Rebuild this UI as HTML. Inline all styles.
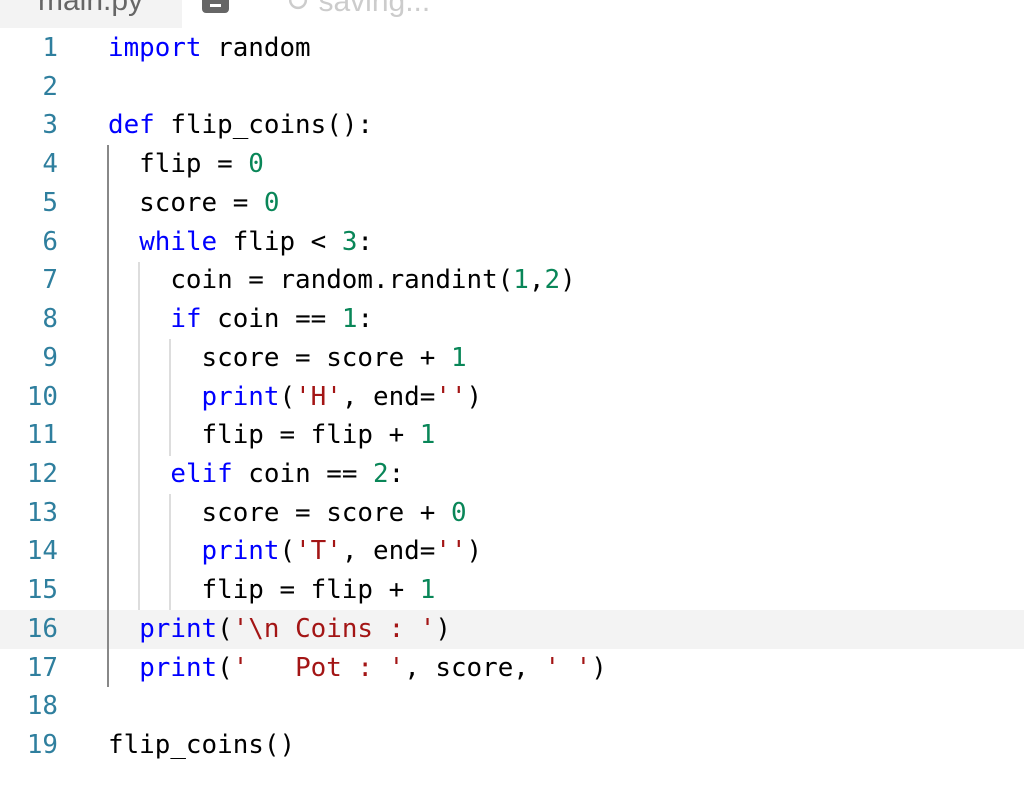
<!DOCTYPE html>
<html><head><meta charset="utf-8"><style>
html,body{margin:0;padding:0;width:1024px;height:805px;background:#fff;overflow:hidden;position:relative;font-family:"DejaVu Sans Mono","Liberation Mono",monospace}
.tab{position:absolute;left:0;top:0;width:182px;height:28px;background:#f3f3f3}
.tabt{position:absolute;left:38px;top:-16px;font:30px "Liberation Sans",sans-serif;color:#666}
.icon{position:absolute;left:202px;top:0;width:27px;height:13px;background:#666;border-radius:0 0 4px 4px}
.icon:after{content:"";position:absolute;left:8px;top:4px;width:11px;height:3px;background:#fff}
.sav{position:absolute;left:285px;top:-16px;font:30px "Liberation Sans",sans-serif;color:#ccc}
.hl{position:absolute;left:0;top:610px;width:1024px;height:38.7px;background:#f3f3f3}
.row{position:absolute;left:0;height:38.72px;line-height:38.72px;font-size:25.9px;white-space:pre;color:#000}
.n{position:absolute;right:966px;color:#2f7f9e;text-align:right}
.c{position:absolute;left:108px}
.k{color:#0000ff}.s{color:#a31515}.d{color:#098658}
.g{position:absolute;width:2px}
</style></head><body>
<div class="tab"><div class="tabt">main.py</div></div>
<div class="icon"></div>
<div class="sav">↻ saving...</div>
<div class="hl"></div>
<div class="g" style="left:107px;top:145px;height:542px;background:#888"></div>
<div class="g" style="left:138px;top:262px;height:348px;background:#ddd"></div>
<div class="g" style="left:169px;top:339px;height:117px;background:#ddd"></div>
<div class="g" style="left:169px;top:494px;height:116px;background:#ddd"></div>
<div class="row" style="top:29px;width:1024px"><span class="n">1</span><span class="c"><span class="k">import</span> random</span></div>
<div class="row" style="top:67.7px;width:1024px"><span class="n">2</span></div>
<div class="row" style="top:106.4px;width:1024px"><span class="n">3</span><span class="c"><span class="k">def</span> flip_coins():</span></div>
<div class="row" style="top:145.2px;width:1024px"><span class="n">4</span><span class="c">  flip = <span class="d">0</span></span></div>
<div class="row" style="top:183.9px;width:1024px"><span class="n">5</span><span class="c">  score = <span class="d">0</span></span></div>
<div class="row" style="top:222.6px;width:1024px"><span class="n">6</span><span class="c">  <span class="k">while</span> flip &lt; <span class="d">3</span>:</span></div>
<div class="row" style="top:261.3px;width:1024px"><span class="n">7</span><span class="c">    coin = random.randint(<span class="d">1</span>,<span class="d">2</span>)</span></div>
<div class="row" style="top:300px;width:1024px"><span class="n">8</span><span class="c">    <span class="k">if</span> coin == <span class="d">1</span>:</span></div>
<div class="row" style="top:338.8px;width:1024px"><span class="n">9</span><span class="c">      score = score + <span class="d">1</span></span></div>
<div class="row" style="top:377.5px;width:1024px"><span class="n">10</span><span class="c">      <span class="k">print</span>(<span class="s">'H'</span>, end=<span class="s">''</span>)</span></div>
<div class="row" style="top:416.2px;width:1024px"><span class="n">11</span><span class="c">      flip = flip + <span class="d">1</span></span></div>
<div class="row" style="top:454.9px;width:1024px"><span class="n">12</span><span class="c">    <span class="k">elif</span> coin == <span class="d">2</span>:</span></div>
<div class="row" style="top:493.6px;width:1024px"><span class="n">13</span><span class="c">      score = score + <span class="d">0</span></span></div>
<div class="row" style="top:532.4px;width:1024px"><span class="n">14</span><span class="c">      <span class="k">print</span>(<span class="s">'T'</span>, end=<span class="s">''</span>)</span></div>
<div class="row" style="top:571.1px;width:1024px"><span class="n">15</span><span class="c">      flip = flip + <span class="d">1</span></span></div>
<div class="row" style="top:609.8px;width:1024px"><span class="n">16</span><span class="c">  <span class="k">print</span>(<span class="s">'\n Coins : '</span>)</span></div>
<div class="row" style="top:648.5px;width:1024px"><span class="n">17</span><span class="c">  <span class="k">print</span>(<span class="s">'   Pot : '</span>, score, <span class="s">' '</span>)</span></div>
<div class="row" style="top:687.2px;width:1024px"><span class="n">18</span></div>
<div class="row" style="top:726px;width:1024px"><span class="n">19</span><span class="c">flip_coins()</span></div>
</body></html>
